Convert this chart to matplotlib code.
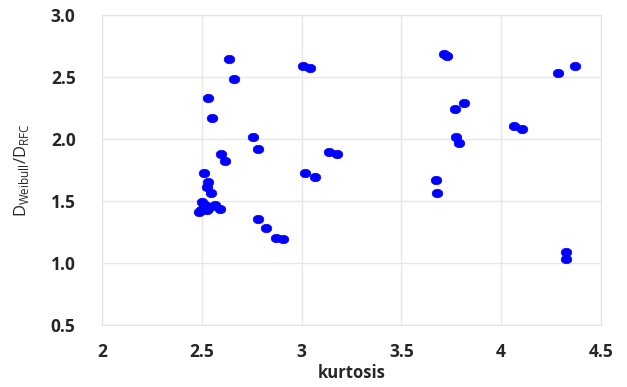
#!/usr/bin/env python3
# coding=utf-8

import numpy as np
import matplotlib
matplotlib.use('Agg')
import matplotlib.pyplot as plt
from matplotlib.path import Path
from matplotlib.ticker import MultipleLocator, FormatStrFormatter

# data
kurtosis = [2.529, 2.551, 2.634, 2.662,
            2.509, 2.531, 2.526, 2.547,
            2.484, 2.501, 2.517, 2.509, 2.542, 2.567, 2.592, 2.494, 2.528,
            2.598, 2.618,
            2.758, 2.783,
            2.780, 2.820, 2.872, 2.908,
            3.008, 3.042,
            3.015, 3.065,
            3.137, 3.177,
            3.673, 3.680,
            3.713, 3.730,
            3.770, 3.812,
            3.775, 3.787,
            4.062, 4.104,
            4.283, 4.371,
            4.324, 4.324]
ratio = [2.328, 2.169, 2.643, 2.484,
         1.728, 1.656, 1.615, 1.562,
         1.414, 1.494, 1.468, 1.441, 1.454, 1.468, 1.433, 1.427, 1.427,
         1.879, 1.823,
         2.018, 1.917,
         1.352, 1.280, 1.199, 1.191,
         2.589, 2.570,
         1.728, 1.696,
         1.893, 1.879,
         1.669, 1.565,
         2.685, 2.672,
         2.244, 2.288,
         2.014, 1.970,
         2.105, 2.083,
         2.535, 2.589,
         1.091, 1.030]

# slightly wide ellipse marker, like the excel export
t = np.linspace(0, 2 * np.pi, 40)
ellipse = Path(np.column_stack([np.cos(t), 0.8 * np.sin(t)]), closed=True)

fig = plt.figure(figsize=(6.27, 3.87), dpi=100)
ax = fig.add_axes([0.1627, 0.160, 0.7958, 0.801])

ax.scatter(kurtosis, ratio, marker=ellipse, s=58, color='#0000ff',
           edgecolors='#0000ff', linewidths=0.5, zorder=3)

ax.set_xlim(2, 4.5)
ax.set_ylim(0.5, 3.0)
ax.xaxis.set_major_locator(MultipleLocator(0.5))
ax.xaxis.set_major_formatter(FormatStrFormatter('%g'))
ax.yaxis.set_major_locator(MultipleLocator(0.5))
ax.yaxis.set_major_formatter(FormatStrFormatter('%.1f'))

ax.grid(True, color='#e6e6e6', lw=1.0, zorder=0)
for sp in ax.spines.values():
    sp.set_color('#e3e3e3')
ax.tick_params(length=0, labelsize=12.5)
ax.tick_params(axis='x', pad=13)
ax.tick_params(axis='y', pad=19)
for label in ax.get_xticklabels() + ax.get_yticklabels():
    label.set_fontfamily('Open Sans')
    label.set_fontweight('bold')
    label.set_color('#262626')

ax.set_xlabel('kurtosis', fontsize=12, fontweight='bold', family='Open Sans',
              color='#262626', labelpad=2)
ax.set_ylabel(r'D$_{\mathregular{Weibull}}$/D$_{\mathregular{RFC}}$',
              fontsize=12, family='Open Sans', color='#262626')
ax.yaxis.set_label_coords(-0.142, 0.5)

plt.savefig('out.png', dpi=100)
